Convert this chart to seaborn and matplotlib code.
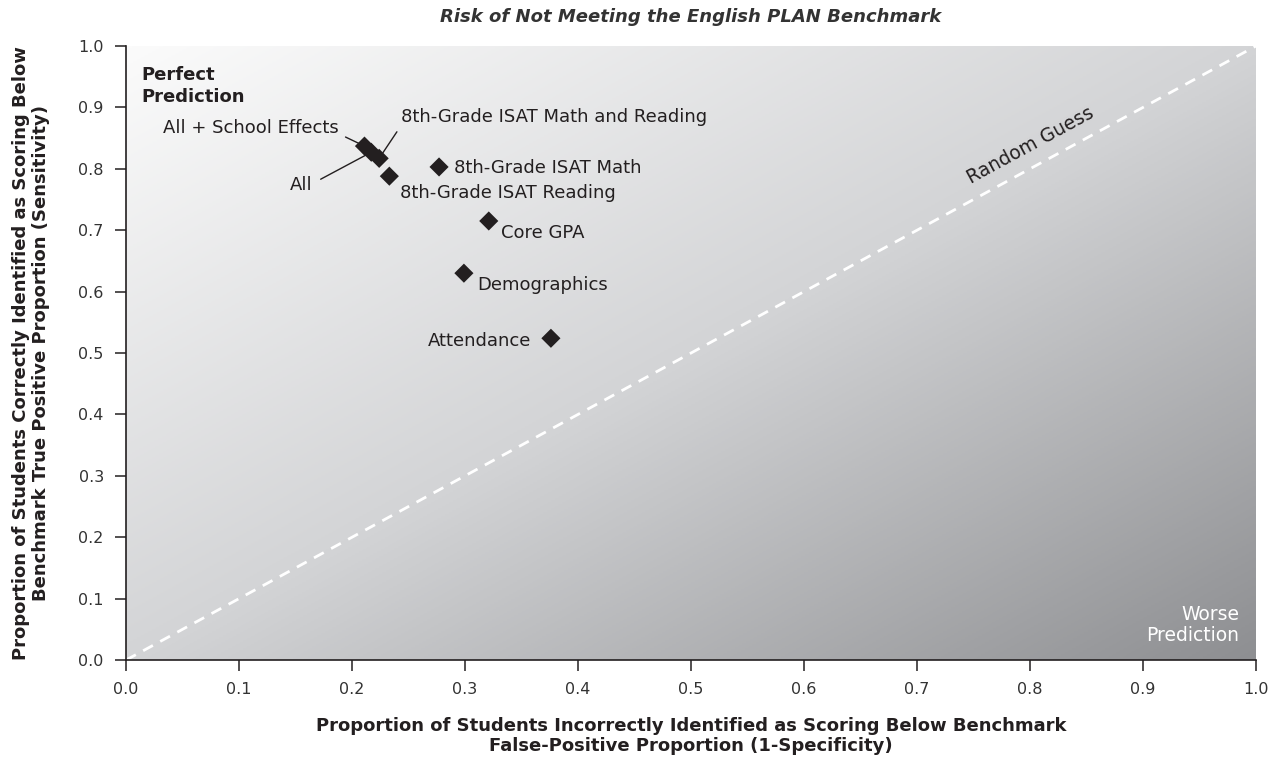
import numpy as np
import pandas as pd
import matplotlib
matplotlib.use('Agg')
import matplotlib.pyplot as plt
import seaborn as sns
from matplotlib.colors import LinearSegmentedColormap

# values
labels = ['All + School Effects', 'All', '8th-Grade ISAT Math and Reading',
          '8th-Grade ISAT Reading', '8th-Grade ISAT Math', 'Core GPA',
          'Demographics', 'Attendance']
fpr = [0.211, 0.217, 0.224, 0.233, 0.277, 0.321, 0.299, 0.376]
tpr = [0.837, 0.827, 0.817, 0.788, 0.803, 0.715, 0.630, 0.524]
ticks = [0.0, 0.1, 0.2, 0.3, 0.4, 0.5, 0.6, 0.7, 0.8, 0.9, 1.0]

df = pd.DataFrame({'label': labels, 'fpr': fpr, 'tpr': tpr})

sns.set_style('white')
plt.rcParams['font.family'] = ['DejaVu Sans']
txt = '#231f20'

fig = plt.figure(figsize=(12.81, 7.64), dpi=100)
ax = fig.add_axes([0.0984, 0.1361, 0.8821, 0.8037])

# diagonal grey gradient background
gx, gy = np.meshgrid(np.linspace(0, 1, 300), np.linspace(0, 1, 300))
grad = (gx + (1 - gy)) / 2
cmap = LinearSegmentedColormap.from_list('bg', ['#fbfbfb', '#d3d4d6', '#8e8f92'])
ax.imshow(grad, extent=[0, 1, 0, 1], origin='lower', cmap=cmap, aspect='auto', zorder=0)

ax.plot([0, 1], [0, 1], ls=(0, (4, 3)), color='white', lw=2, zorder=1)

sns.scatterplot(data=df, x='fpr', y='tpr', marker='D', s=95, color='#231f20',
                edgecolor='none', ax=ax, zorder=3, legend=False)

ax.set_xlim(0, 1)
ax.set_ylim(0, 1)
ax.set_xticks(ticks)
ax.set_yticks(ticks)
ax.set_xticklabels([f'{t:.1f}' for t in ticks])
ax.set_yticklabels([f'{t:.1f}' for t in ticks])
ax.tick_params(axis='both', direction='out', length=8, width=1.1, color='#231f20',
               labelsize=11.5, labelcolor='#333333', pad=8, left=True, bottom=True)
for s in ['top', 'right']:
    ax.spines[s].set_visible(False)
for s in ['left', 'bottom']:
    ax.spines[s].set_color('#231f20')
    ax.spines[s].set_linewidth(1.2)

ax.set_xlabel('Proportion of Students Incorrectly Identified as Scoring Below Benchmark\n'
              'False-Positive Proportion (1-Specificity)', fontsize=13, fontweight='bold',
              color=txt, linespacing=1.15)
ax.xaxis.set_label_coords(0.5, -0.092)
ax.set_ylabel('Proportion of Students Correctly Identified as Scoring Below\n'
              'Benchmark True Positive Proportion (Sensitivity)', fontsize=13,
              fontweight='bold', color=txt, linespacing=1.15)
ax.yaxis.set_label_coords(-0.067, 0.5)
ax.set_title('Risk of Not Meeting the English PLAN Benchmark', fontsize=13,
             style='italic', fontweight='bold', color='#333333', pad=17)

fs = 13
ax.annotate('All + School Effects', xy=(fpr[0], tpr[0]), xytext=(0.188, 0.866),
            ha='right', va='center', fontsize=fs, color=txt,
            arrowprops=dict(arrowstyle='-', color=txt, lw=1, shrinkA=3, shrinkB=4,
                            relpos=(1, 0.2)))
ax.annotate('All', xy=(fpr[1], tpr[1]), xytext=(0.165, 0.773),
            ha='right', va='center', fontsize=fs, color=txt,
            arrowprops=dict(arrowstyle='-', color=txt, lw=1, shrinkA=4, shrinkB=4,
                            relpos=(1, 0.6)))
ax.annotate('8th-Grade ISAT Math and Reading', xy=(fpr[2], tpr[2]), xytext=(0.243, 0.884),
            ha='left', va='center', fontsize=fs, color=txt,
            arrowprops=dict(arrowstyle='-', color=txt, lw=1, shrinkA=2, shrinkB=4,
                            relpos=(0, 0)))
ax.text(0.242, 0.760, labels[3], ha='left', va='center', fontsize=fs, color=txt)
ax.text(0.290, 0.801, labels[4], ha='left', va='center', fontsize=fs, color=txt)
ax.text(0.332, 0.696, labels[5], ha='left', va='center', fontsize=fs, color=txt)
ax.text(0.311, 0.611, labels[6], ha='left', va='center', fontsize=fs, color=txt)
ax.text(0.359, 0.520, labels[7], ha='right', va='center', fontsize=fs, color=txt)

ax.text(0.014, 0.967, 'Perfect\nPrediction', ha='left', va='top', fontsize=13,
        fontweight='bold', color=txt, linespacing=1.25)
ax.text(0.985, 0.025, 'Worse\nPrediction', ha='right', va='bottom', fontsize=13.5,
        color='white', linespacing=1.1)
ax.text(0.800, 0.838, 'Random Guess', ha='center', va='center', fontsize=13.5,
        color=txt, rotation=28.5, rotation_mode='anchor')

fig.savefig('out.png', dpi=100)
